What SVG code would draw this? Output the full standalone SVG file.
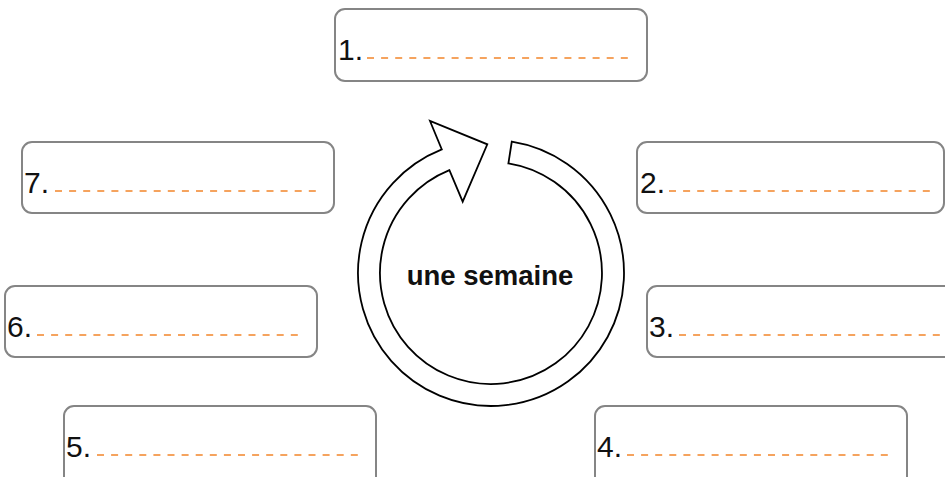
<svg xmlns="http://www.w3.org/2000/svg" width="945" height="477" viewBox="0 0 945 477">
<style>
.box{fill:#fff;stroke:#858585;stroke-width:2}
.num{font-family:"Liberation Sans",Arial,sans-serif;font-size:30px;fill:#111}
.dash{stroke:#f5a35e;stroke-width:2;stroke-dasharray:7 7.1;fill:none}
.ring{fill:#fff;stroke:#000;stroke-width:1.8;stroke-linejoin:miter}
.title{font-family:"Liberation Sans",Arial,sans-serif;font-size:27.5px;font-weight:bold;fill:#111;text-anchor:middle}
</style>
<rect width="945" height="477" fill="#fff"/>
<g id="cycle">
<path class="ring" d="M511.8,141.6 A133,133 0 1 1 441.8,149.4 L430,121 L487.3,144.3 L462.7,201.7 L449.4,170.1 A111,111 0 1 0 508.4,163.4 Z"/>
<text class="title" x="490" y="285">une semaine</text>
</g>
<g id="node1">
<rect class="box" x="335" y="9" width="312" height="72" rx="10"/>
<text class="num" x="338" y="60">1.</text>
<line class="dash" x1="367" y1="58" x2="629" y2="58"/>
</g>
<g id="node2">
<rect class="box" x="637" y="142" width="307" height="71" rx="10"/>
<text class="num" x="640" y="193">2.</text>
<line class="dash" x1="669" y1="191" x2="931" y2="191"/>
</g>
<g id="node3">
<rect class="box" x="647" y="286" width="312" height="71" rx="10"/>
<text class="num" x="649" y="337">3.</text>
<line class="dash" x1="679" y1="335" x2="941" y2="335"/>
</g>
<g id="node4">
<rect class="box" x="595" y="406" width="312" height="80" rx="10"/>
<text class="num" x="597" y="457">4.</text>
<line class="dash" x1="627" y1="455" x2="889" y2="455"/>
</g>
<g id="node5">
<rect class="box" x="64" y="406" width="312" height="80" rx="10"/>
<text class="num" x="66" y="457">5.</text>
<line class="dash" x1="97" y1="455" x2="359" y2="455"/>
</g>
<g id="node6">
<rect class="box" x="5" y="286" width="312" height="71" rx="10"/>
<text class="num" x="7" y="337">6.</text>
<line class="dash" x1="37" y1="335" x2="299" y2="335"/>
</g>
<g id="node7">
<rect class="box" x="22" y="142" width="312" height="71" rx="10"/>
<text class="num" x="24" y="193">7.</text>
<line class="dash" x1="55" y1="191" x2="317" y2="191"/>
</g>
<g id="connectors"></g>
</svg>
